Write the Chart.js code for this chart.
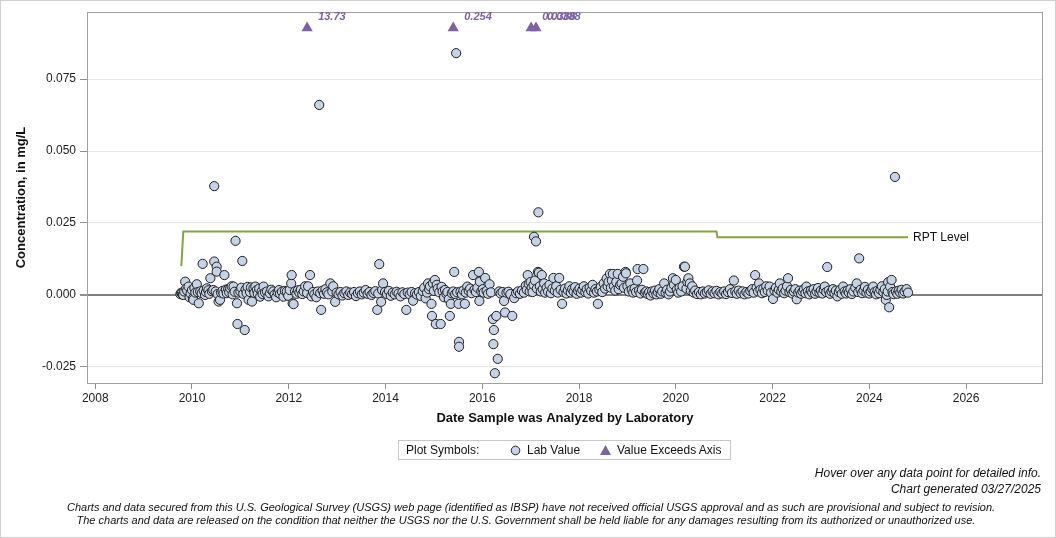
<!DOCTYPE html>
<html><head><meta charset="utf-8">
<script src="https://cdn.jsdelivr.net/npm/chart.js@4.4.1/dist/chart.umd.min.js"></script>
<style>
html,body{margin:0;padding:0;background:#fff;}
#wrap{position:relative;width:1056px;height:538px;font-family:"Liberation Sans",Arial,sans-serif;overflow:hidden;background:#fff}
#c{position:absolute;left:0;top:0}
#frame{position:absolute;left:0;top:0;width:1056px;height:538px;box-sizing:border-box;border:1px solid #d0d0d0;pointer-events:none}
#legend{position:absolute;left:398px;top:440px;width:333px;height:20px;border:1px solid #c8c8c8;box-sizing:border-box;font-size:12px;color:#111;}
#legend span{position:absolute;top:2px;white-space:nowrap}
#legend svg{position:absolute}
.foot{position:absolute;white-space:nowrap;font-style:italic;color:#111}
</style>
</head><body>
<div id="wrap">
<canvas id="c" width="1056" height="538"></canvas>
<div id="legend">
  <span style="left:7px">Plot Symbols:</span>
  <svg style="left:111px;top:4px" width="11" height="11"><circle cx="5.5" cy="5.5" r="4.3" fill="#c6d3e6" stroke="#222" stroke-width="1"/></svg>
  <span style="left:128px">Lab Value</span>
  <svg style="left:200px;top:3px" width="13" height="12"><polygon points="6.5,1 12,11 1,11" fill="#7d62a8"/></svg>
  <span style="left:218px">Value Exceeds Axis</span>
</div>
<div class="foot" id="f1" style="right:15px;top:466px;font-size:12px">Hover over any data point for detailed info.</div>
<div class="foot" id="f2" style="right:15px;top:482px;font-size:12px">Chart generated 03/27/2025</div>
<div class="foot" id="f3" style="top:501px;font-size:11px">Charts and data secured from this U.S. Geological Survey (USGS) web page (identified as IBSP) have not received official USGS approval and as such are provisional and subject to revision.</div>
<div class="foot" id="f4" style="top:514px;font-size:11px">The charts and data are released on the condition that neither the USGS nor the U.S. Government shall be held liable for any damages resulting from its authorized or unauthorized use.</div>
<div id="frame"></div>
</div>
<script>
// ---- Data ----
const xTicks = [2008, 2010, 2012, 2014, 2016, 2018, 2020, 2022, 2024, 2026];
const yTicks = [-0.025, 0.000, 0.025, 0.050, 0.075];

const labValuePoints = [
[2009.76,0.0003],[2009.78,0.0008],[2009.79,0.0006],[2009.81,0.0001],[2009.82,0.0],[2009.84,0.0012],[2009.86,0.0046],[2009.88,0.0022],[2009.90,0.0015],[2009.93,0.0029],[2009.95,-0.0008],[2009.97,0.0005],
[2010.00,0.0017],[2010.02,-0.0012],[2010.03,-0.0017],[2010.05,0.0024],[2010.07,0.0008],[2010.10,0.0037],[2010.12,0.0010],[2010.14,-0.0029],[2010.17,0.0012],[2010.20,0.0006],[2010.22,0.0108],[2010.24,0.0015],[2010.27,0.0],[2010.29,0.0010],[2010.31,0.0023],[2010.34,0.0016],[2010.36,0.0004],[2010.38,0.0058],[2010.41,0.0013],[2010.44,0.0017],[2010.46,0.0116],[2010.46,0.0378],[2010.49,0.0012],[2010.51,0.0098],[2010.51,0.0081],[2010.53,0.0003],[2010.55,-0.0023],[2010.58,-0.0017],[2010.60,0.0008],[2010.63,0.0014],[2010.65,0.0005],[2010.67,0.0069],[2010.70,0.0018],[2010.72,0.0006],[2010.75,0.0021],[2010.77,0.0009],[2010.79,0.0023],[2010.82,0.0030],[2010.84,0.0002],[2010.86,0.0029],[2010.88,0.0011],[2010.90,0.0188],[2010.93,-0.0029],[2010.94,-0.0101],[2010.96,0.0008],
[2011.00,0.0012],[2011.02,0.0025],[2011.04,0.0118],[2011.06,0.0004],[2011.09,-0.0122],[2011.11,0.0019],[2011.13,0.0006],[2011.15,0.0028],[2011.17,-0.0017],[2011.20,0.0010],[2011.22,0.0026],[2011.24,-0.0023],[2011.27,0.0023],[2011.29,0.0007],[2011.31,0.0029],[2011.34,0.0017],[2011.36,0.0004],[2011.39,0.0022],[2011.41,-0.0006],[2011.44,0.0012],[2011.46,0.0003],[2011.48,0.0029],[2011.51,0.0008],[2011.55,0.0012],[2011.58,-0.0005],[2011.61,0.0006],[2011.64,0.0018],[2011.68,0.0012],[2011.71,0.0002],[2011.74,-0.0008],[2011.77,0.0009],[2011.80,0.0017],[2011.82,0.0004],[2011.86,0.0011],[2011.89,-0.0006],[2011.92,0.0014],[2011.96,0.0012],[2011.99,-0.0003],
[2012.02,0.0017],[2012.05,0.0040],[2012.06,0.0069],[2012.08,-0.0029],[2012.10,-0.0032],[2012.13,0.0012],[2012.16,0.0004],[2012.19,0.0016],[2012.22,0.0008],[2012.25,0.0018],[2012.28,0.0003],[2012.31,0.0012],[2012.34,0.0030],[2012.38,0.0007],[2012.40,0.0030],[2012.44,0.0069],[2012.47,-0.0005],[2012.50,0.0010],[2012.53,0.0002],[2012.57,-0.0008],[2012.60,0.0012],[2012.63,0.0660],[2012.65,0.0006],[2012.67,-0.0052],[2012.70,0.0015],[2012.73,0.0004],[2012.76,0.0020],[2012.79,0.0009],[2012.82,0.0002],[2012.86,0.0040],[2012.90,0.0012],[2012.92,0.0030],[2012.96,-0.0024],[2012.99,0.0008],
[2013.03,0.0002],[2013.07,0.0010],[2013.11,-0.0002],[2013.15,0.0006],[2013.19,0.0012],[2013.23,0.0],[2013.27,0.0008],[2013.31,0.0003],[2013.35,0.0010],[2013.39,-0.0004],[2013.43,0.0006],[2013.47,0.0012],[2013.51,0.0002],[2013.55,0.0008],[2013.59,0.0017],[2013.63,0.0004],[2013.67,0.0010],[2013.71,0.0],[2013.75,0.0007],[2013.79,0.0013],[2013.83,-0.0052],[2013.85,0.0005],[2013.87,0.0107],[2013.91,-0.0024],[2013.93,0.0017],[2013.95,0.0040],[2013.99,0.0010],
[2014.03,0.0003],[2014.07,0.0014],[2014.11,-0.0003],[2014.15,0.0008],[2014.19,0.0002],[2014.23,0.0011],[2014.27,0.0005],[2014.31,-0.0005],[2014.35,0.0009],[2014.39,0.0003],[2014.43,-0.0052],[2014.46,0.0008],[2014.50,0.0002],[2014.54,0.0010],[2014.57,-0.0020],[2014.61,0.0006],[2014.65,0.0001],[2014.69,0.0010],[2014.73,-0.0004],[2014.77,0.0013],[2014.80,0.0025],[2014.83,-0.0012],[2014.86,0.0008],[2014.88,0.0040],[2014.90,0.0020],[2014.92,0.0030],[2014.95,-0.0031],[2014.96,-0.0073],[2014.98,0.0040],
[2015.00,0.0014],[2015.02,0.0052],[2015.04,-0.0101],[2015.06,0.0035],[2015.08,0.0022],[2015.11,0.0009],[2015.14,-0.0101],[2015.16,0.0028],[2015.18,0.0012],[2015.21,-0.0008],[2015.23,0.0017],[2015.26,0.0004],[2015.28,0.0010],[2015.31,-0.0015],[2015.33,-0.0073],[2015.35,-0.0031],[2015.37,0.0006],[2015.40,0.0012],[2015.42,0.0080],[2015.44,0.0003],[2015.46,0.0840],[2015.48,0.0009],[2015.51,-0.0031],[2015.52,-0.0163],[2015.52,-0.0180],[2015.55,0.0011],[2015.58,0.0002],[2015.61,0.0015],[2015.64,-0.0031],[2015.66,0.0008],[2015.69,0.0029],[2015.72,0.0014],[2015.75,0.0022],[2015.78,0.0006],[2015.81,0.0069],[2015.84,0.0018],[2015.87,0.0010],[2015.90,0.0025],[2015.93,0.0080],[2015.94,-0.0021],[2015.95,0.0046],[2015.98,0.0012],
[2016.01,0.0020],[2016.03,0.0008],[2016.06,0.0059],[2016.09,0.0014],[2016.12,0.0004],[2016.15,0.0037],[2016.18,0.0009],[2016.22,-0.0084],[2016.23,-0.0171],[2016.24,-0.0122],[2016.26,-0.0272],[2016.29,-0.0073],[2016.32,-0.0222],[2016.35,0.0012],[2016.38,0.0005],[2016.42,0.0010],[2016.45,-0.0021],[2016.47,-0.0061],[2016.50,0.0008],[2016.54,0.0011],[2016.58,0.0003],[2016.62,-0.0073],[2016.66,-0.0011],[2016.70,0.0006],[2016.74,0.0012],[2016.78,0.0004],[2016.82,0.0015],[2016.86,0.0008],[2016.90,0.0032],[2016.92,0.0018],[2016.94,0.0069],[2016.96,0.0038],[2016.98,0.0012],
[2017.00,0.0045],[2017.02,0.0025],[2017.04,0.0010],[2017.06,0.0035],[2017.07,0.0202],[2017.09,0.0050],[2017.11,0.0186],[2017.13,0.0022],[2017.15,0.0080],[2017.16,0.0287],[2017.17,0.0077],[2017.19,0.0030],[2017.21,0.0012],[2017.23,0.0069],[2017.25,0.0020],[2017.28,0.0040],[2017.30,0.0008],[2017.33,0.0025],[2017.36,0.0012],[2017.39,0.0035],[2017.42,0.0006],[2017.45,0.0022],[2017.47,0.0059],[2017.50,0.0015],[2017.53,0.0030],[2017.56,0.0008],[2017.59,0.0059],[2017.62,0.0018],[2017.65,-0.0031],[2017.68,0.0010],[2017.71,0.0022],[2017.74,0.0005],[2017.77,0.0016],[2017.80,0.0030],[2017.83,0.0008],[2017.86,0.0020],[2017.89,0.0012],[2017.92,0.0027],[2017.95,0.0004],[2017.98,0.0015],
[2018.01,0.0022],[2018.04,0.0008],[2018.07,0.0018],[2018.10,0.0030],[2018.13,0.0010],[2018.16,0.0020],[2018.19,0.0005],[2018.22,0.0025],[2018.25,0.0014],[2018.28,0.0035],[2018.31,0.0008],[2018.34,0.0020],[2018.37,0.0012],[2018.39,-0.0031],[2018.42,0.0018],[2018.45,0.0028],[2018.48,0.0010],[2018.51,0.0040],[2018.54,0.0022],[2018.57,0.0057],[2018.59,0.0030],[2018.61,0.0045],[2018.64,0.0073],[2018.66,0.0025],[2018.68,0.0050],[2018.70,0.0073],[2018.72,0.0030],[2018.75,0.0015],[2018.77,0.0045],[2018.80,0.0073],[2018.82,0.0020],[2018.85,0.0035],[2018.88,0.0040],[2018.91,0.0063],[2018.93,0.0025],[2018.96,0.0080],[2018.97,0.0075],
[2019.00,0.0030],[2019.03,0.0012],[2019.06,0.0040],[2019.09,0.0018],[2019.12,0.0008],[2019.15,0.0022],[2019.18,0.0010],[2019.20,0.0050],[2019.21,0.0090],[2019.24,0.0015],[2019.27,0.0005],[2019.30,0.0018],[2019.33,0.0090],[2019.36,0.0008],[2019.39,0.0012],[2019.42,0.0003],[2019.45,0.0010],[2019.48,-0.0002],[2019.51,0.0012],[2019.54,0.0005],[2019.57,0.0015],[2019.60,0.0002],[2019.63,0.0010],[2019.66,0.0020],[2019.69,0.0004],[2019.72,0.0012],[2019.76,0.0040],[2019.79,0.0008],[2019.82,0.0018],[2019.85,0.0002],[2019.88,0.0012],[2019.91,0.0025],[2019.94,0.0058],[2019.96,0.0035],
[2020.00,0.0052],[2020.02,0.0018],[2020.05,0.0008],[2020.08,0.0025],[2020.11,0.0012],[2020.14,0.0030],[2020.17,0.0098],[2020.19,0.0098],[2020.22,0.0022],[2020.24,0.0045],[2020.26,0.0058],[2020.29,0.0040],[2020.31,0.0015],[2020.34,0.0030],[2020.37,0.0008],[2020.40,0.0015],[2020.44,0.0003],[2020.48,0.0010],[2020.52,0.0002],[2020.56,0.0012],[2020.60,0.0005],[2020.64,0.0010],[2020.68,0.0016],[2020.72,0.0004],[2020.76,0.0012],[2020.80,0.0006],[2020.84,0.0014],[2020.88,0.0002],[2020.92,0.0010],[2020.96,0.0005],
[2021.00,0.0012],[2021.04,0.0003],[2021.08,0.0010],[2021.12,0.0020],[2021.16,0.0007],[2021.20,0.0050],[2021.23,0.0012],[2021.26,0.0004],[2021.30,0.0015],[2021.34,0.0006],[2021.38,0.0012],[2021.42,0.0002],[2021.46,0.0010],[2021.50,0.0005],[2021.54,0.0014],[2021.58,0.0020],[2021.61,0.0008],[2021.64,0.0069],[2021.67,0.0025],[2021.70,0.0012],[2021.72,0.0040],[2021.75,0.0018],[2021.78,0.0006],[2021.81,0.0022],[2021.84,0.0010],[2021.87,0.0030],[2021.90,0.0015],[2021.94,0.0029],[2021.97,0.0008],
[2022.01,-0.0014],[2022.04,0.0015],[2022.07,0.0025],[2022.10,0.0008],[2022.13,0.0018],[2022.15,0.0040],[2022.18,0.0012],[2022.21,0.0022],[2022.24,0.0006],[2022.27,0.0015],[2022.30,0.0030],[2022.32,0.0058],[2022.35,0.0010],[2022.38,0.0018],[2022.41,0.0005],[2022.44,0.0012],[2022.47,0.0020],[2022.50,-0.0015],[2022.53,0.0008],[2022.56,0.0015],[2022.59,0.0004],[2022.62,0.0012],[2022.65,0.0020],[2022.68,0.0006],[2022.70,0.0029],[2022.73,0.0012],[2022.76,0.0002],[2022.79,0.0015],[2022.82,0.0008],[2022.85,0.0020],[2022.88,0.0004],[2022.91,0.0012],[2022.94,0.0024],[2022.97,0.0008],
[2023.00,0.0015],[2023.03,0.0005],[2023.06,0.0018],[2023.08,0.0029],[2023.11,0.0010],[2023.13,0.0097],[2023.16,0.0015],[2023.19,0.0004],[2023.22,0.0012],[2023.25,0.0020],[2023.28,0.0006],[2023.31,0.0015],[2023.34,-0.0005],[2023.37,0.0010],[2023.40,0.0018],[2023.43,0.0004],[2023.46,0.0029],[2023.49,0.0012],[2023.52,0.0005],[2023.55,0.0015],[2023.58,0.0008],[2023.61,0.0020],[2023.64,0.0003],[2023.67,0.0012],[2023.71,0.0025],[2023.74,0.0040],[2023.77,0.0010],[2023.79,0.0127],[2023.82,0.0018],[2023.85,0.0006],[2023.88,0.0015],[2023.91,0.0028],[2023.94,0.0008],[2023.97,0.0018],
[2024.00,0.0005],[2024.03,0.0012],[2024.06,0.0022],[2024.08,0.0029],[2024.11,0.0010],[2024.14,0.0002],[2024.17,0.0015],[2024.20,0.0006],[2024.23,0.0018],[2024.26,0.0030],[2024.29,0.0010],[2024.32,0.0020],[2024.34,-0.0017],[2024.36,0.0],[2024.38,0.0012],[2024.39,0.0044],[2024.41,-0.0043],[2024.43,0.0029],[2024.46,0.0052],[2024.48,0.0010],[2024.50,0.0003],[2024.53,0.0410],[2024.55,0.0012],[2024.58,0.0004],[2024.61,0.0015],[2024.64,0.0008],[2024.67,0.0018],[2024.70,0.0005],[2024.73,0.0012],[2024.77,0.0020],[2024.80,0.0008]
];

// values above the axis maximum, drawn as triangles at the top of the plot
const exceedDates = [2012.38, 2015.40, 2017.01, 2017.11];
const exceedLabels = ['13.73', '0.254', '0.0388', '0.0388'];
const exceedMarkerLevel = 0.0927;

// reporting level step line
const rptDates = [2009.78, 2009.82, 2020.84, 2020.86, 2024.80];
const rptValues = [0.0100, 0.0220, 0.0220, 0.0200, 0.0200];

const xMin = 2007.83, xMax = 2027.59, yMin = -0.0306, yMax = 0.0983;

// ---- Chart ----
const FONT = '"Liberation Sans", Arial, sans-serif';

const overlayPlugin = {
  id: 'overlay',
  afterDraw(chart) {
    const ctx = chart.ctx, a = chart.chartArea;
    ctx.save();
    // plot frame
    ctx.strokeStyle = '#a0a0a0'; ctx.lineWidth = 1;
    ctx.strokeRect(a.left + 0.5, a.top + 0.5, a.right - a.left - 1, a.bottom - a.top);
    // exceed labels
    const meta = chart.getDatasetMeta(2);
    ctx.fillStyle = '#7d62a8';
    ctx.font = 'italic bold 11px ' + FONT;
    ctx.textBaseline = 'middle'; ctx.textAlign = 'left';
    meta.data.forEach((el, i) => { ctx.fillText(exceedLabels[i], el.x + 11, el.y - 11); });
    // RPT label
    const rm = chart.getDatasetMeta(0);
    const last = rm.data[rm.data.length - 1];
    ctx.fillStyle = '#111'; ctx.font = '12px ' + FONT;
    ctx.fillText('RPT Level', last.x + 5, last.y);
    // axis titles
    ctx.font = 'bold 13px ' + FONT; ctx.fillStyle = '#111';
    ctx.textAlign = 'center';
    ctx.fillText('Date Sample was Analyzed by Laboratory', (a.left + a.right) / 2, 418);
    ctx.translate(21, (a.top + a.bottom) / 2);
    ctx.rotate(-Math.PI / 2);
    ctx.fillText('Concentration, in mg/L', 0, 0);
    ctx.restore();
  }
};

new Chart(document.getElementById('c'), {
  type: 'scatter',
  data: {
    datasets: [
      {
        label: 'RPT Level',
        data: rptDates.map((d, i) => ({ x: d, y: rptValues[i] })),
        showLine: true, borderColor: '#86a345', borderWidth: 2,
        pointRadius: 0, fill: false, tension: 0, order: 3
      },
      {
        label: 'Lab Value',
        data: labValuePoints.map(p => ({ x: p[0], y: p[1] })),
        pointStyle: 'circle', pointRadius: 4.6,
        backgroundColor: '#c6d3e6', borderColor: '#1e1e1e', borderWidth: 1, order: 2
      },
      {
        label: 'Value Exceeds Axis',
        data: exceedDates.map(d => ({ x: d, y: exceedMarkerLevel })),
        pointStyle: 'triangle', pointRadius: 6.5,
        backgroundColor: '#7d62a8', borderColor: '#7d62a8', borderWidth: 0, order: 1
      }
    ]
  },
  options: {
    responsive: false, animation: false, devicePixelRatio: 1,
    layout: { padding: { left: 0, top: 12, right: 13, bottom: 0 } },
    plugins: { legend: { display: false }, tooltip: { enabled: false } },
    scales: {
      x: {
        type: 'linear', min: xMin, max: xMax,
        afterFit: s => { s.height = 155; },
        afterBuildTicks: s => { s.ticks = xTicks.map(v => ({ value: v })); },
        grid: { drawOnChartArea: false, drawTicks: true, tickLength: 6, tickColor: '#909090' },
        border: { display: false },
        ticks: { color: '#222', font: { family: FONT, size: 12 }, padding: 2, maxRotation: 0, autoSkip: false,
                 callback: v => String(v) }
      },
      y: {
        type: 'linear', min: yMin, max: yMax,
        afterFit: s => { s.width = 87; },
        afterBuildTicks: s => { s.ticks = yTicks.map(v => ({ value: v })); },
        grid: {
          color: c => (c.tick && Math.abs(c.tick.value) < 1e-9) ? '#808080' : '#e6e6e6',
          lineWidth: c => (c.tick && Math.abs(c.tick.value) < 1e-9) ? 2 : 1,
          tickLength: 7, tickColor: '#909090', drawTicks: true
        },
        border: { display: false },
        ticks: { color: '#222', font: { family: FONT, size: 12 }, padding: 4, autoSkip: false,
                 callback: v => v.toFixed(3) }
      }
    }
  },
  plugins: [overlayPlugin]
});

// center disclaimer lines
['f3', 'f4'].forEach((id, i) => {
  const el = document.getElementById(id);
  const center = i === 0 ? 531 : 526;
  el.style.left = (center - el.offsetWidth / 2) + 'px';
});
</script>
</body></html>
